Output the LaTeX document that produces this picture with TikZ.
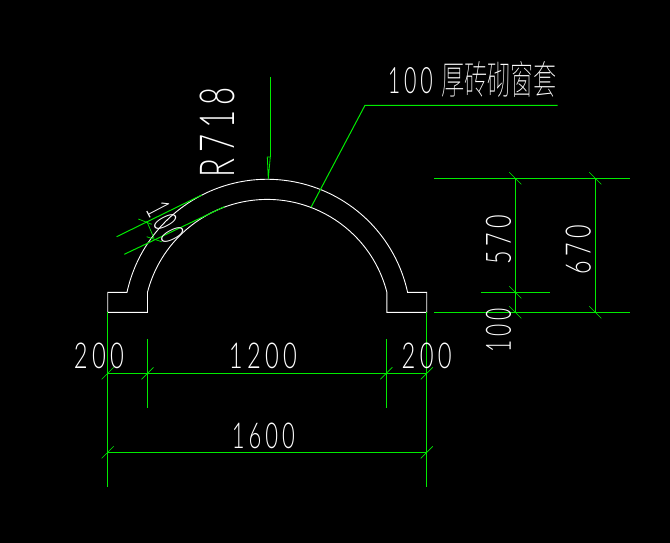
\documentclass[tikz,border=0pt]{standalone}
\usepackage{fontspec}
\usepackage{graphicx}
\setsansfont{Lato}[UprightFont=* Light,LetterSpace=18]
\newfontfamily\cadcjk{Noto Sans CJK SC}[UprightFont=* Thin]
\definecolor{cadgreen}{RGB}{0,235,0}
\tikzset{
  outline/.style={draw=white,line width=0.9pt},
  dimline/.style={draw=cadgreen,line width=1pt},
  ticka/.style={draw=cadgreen,line width=0.7pt},
  cadtext/.style={text=white,inner sep=0pt,outer sep=0pt,font=\sffamily}
}
\newcommand{\fit}[3]{\resizebox{#1pt}{#2pt}{#3}}
\begin{document}
\begin{tikzpicture}[x=1pt,y=-1pt]
\useasboundingbox[fill=black] (0,0) rectangle (670,543);
% shape
\draw[outline] (107.7,312.3) -- (107.7,292.3) -- (127,292.3)
  arc[start angle=192.3,end angle=347.7,x radius=143.6,y radius=143.6]
  -- (426.7,292.3) -- (426.7,312.3) -- (386.9,312.3) -- (386.9,292.3)
  arc[start angle=-14.4,end angle=-165.6,x radius=123.6,y radius=123.6]
  -- (147.5,312.3) -- cycle;
% bottom dims
\coordinate (L1) at (107.7,312.3); \coordinate (L2) at (107.7,487.3);
\coordinate (R1) at (426.7,312.3); \coordinate (R2) at (426.7,487.3);
\draw[dimline] (L1) -- (L2);
\draw[dimline] (R1) -- (R2);
\draw[dimline] (147.5,339.3) -- (147.5,407.7);
\draw[dimline] (386.3,339.3) -- (386.3,407.7);
\draw[dimline] (107.7,373.3) -- (426.7,373.3);
\draw[dimline] (107.7,452.3) -- (426.7,452.3);
\foreach \p in {(107.7,373.3),(147.5,373.3),(386.3,373.3),(426.7,373.3),(107.7,452.3),(426.7,452.3)}
  \draw[ticka] \p ++(-6,6) -- ++(12,-12);
% right dims
\draw[dimline] (434,178.3) -- (630,178.3);
\draw[dimline] (434,312.3) -- (630,312.3);
\draw[dimline] (481,292.3) -- (550,292.3);
\draw[dimline] (515.3,178.3) -- (515.3,312.3);
\draw[dimline] (595.3,178.3) -- (595.3,312.3);
\foreach \p in {(515.3,178.3),(515.3,292.3),(515.3,312.3),(595.3,178.3),(595.3,312.3)}
  \draw[ticka] \p ++(-6,-6) -- ++(12,12);
% leader
\draw[dimline] (311,207.3) -- (365,105.3) -- (557.7,105.3);
% R718
\draw[dimline] (270,77) -- (270,157);
\draw[dimline,line width=0.8pt] (268.3,179) -- (267.3,157) -- (270.3,157) -- cycle;
% left small
\draw[dimline] (116.7,236.7) -- (201.7,195);
\draw[dimline] (124.3,254.3) -- (224.3,206.7);
\draw[ticka] (146.7,221) -- (154,238.3);
\draw[ticka] (138.3,219) -- (151.7,224.3);
\draw[ticka] (146.7,236.7) -- (161.7,241.7);
% texts
\node[cadtext] at (99,356.3) {\fit{50}{25.5}{200}};
\node[cadtext] at (263,356.3) {\fit{68}{25.5}{1200}};
\node[cadtext] at (426.7,356.3) {\fit{50}{25.5}{200}};
\node[cadtext] at (263.5,435.5) {\fit{63}{25.5}{1600}};
\node[cadtext] at (410.3,81) {\fit{45}{26}{100}};
\node[text=white,inner sep=0pt] at (499,79.5) {\resizebox{116pt}{33pt}{\cadcjk 厚砖砌窗套}};
\node[cadtext,rotate=90] at (217.2,132) {\fit{90}{34.5}{R718}};
\node[cadtext,rotate=90] at (498.5,239.5) {\fit{49}{25}{570}};
\node[cadtext,rotate=90] at (578.2,249.5) {\fit{49}{25}{670}};
\node[cadtext,rotate=90] at (498.5,330) {\fit{44}{25}{100}};
\node[cadtext,rotate=-62.4] at (166,222) {\fit{41}{24}{100}};
\end{tikzpicture}
\end{document}
